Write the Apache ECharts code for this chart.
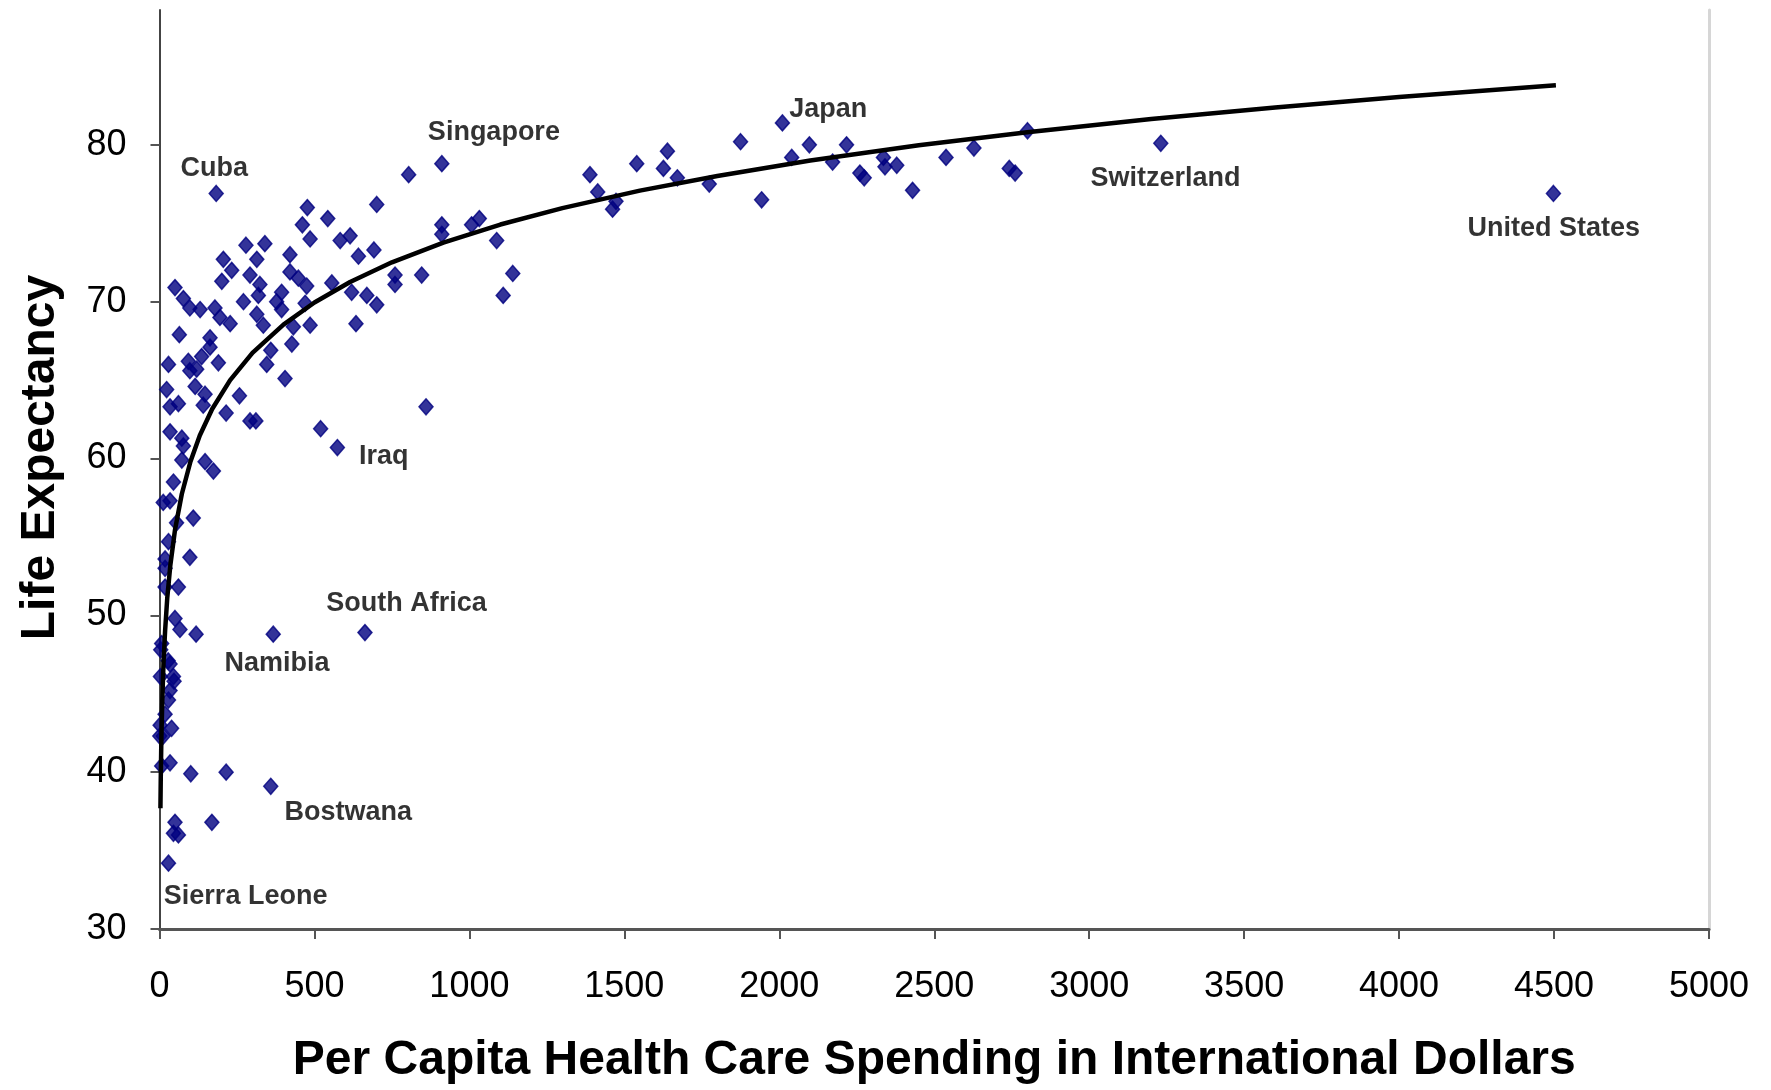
<!DOCTYPE html>
<html><head><meta charset="utf-8">
<script src="https://cdn.jsdelivr.net/npm/echarts@6/dist/echarts.min.js"></script>
<style>html,body{margin:0;padding:0;background:#fff}#chart{width:1771px;height:1090px}</style>
</head><body><div id="chart"></div>
<script>
// Per capita health care spending (international dollars)
const spending = [
  183, 804, 911, 701, 477, 461, 543, 615, 911, 911, 1007, 1032, 1088,
  1140, 1109, 1389, 1414, 1462, 1473, 1540, 1639, 1626, 1671, 1774, 1875, 1943, 2010, 2040, 2097,
  2172, 2217, 2260, 2274, 2336, 2341, 2379, 2430, 2538, 2628, 2742, 2761, 2801, 3231, 4498,
  279, 340, 486, 583, 692, 642, 421, 314, 206, 233, 201, 292, 324, 319, 421, 448, 475, 394, 378, 394,
  556, 620, 669, 701, 760, 760, 846, 470, 50, 77, 98, 131, 179, 195, 228, 271, 314, 335, 432, 486,
  634, 64, 163, 163, 29, 93, 98, 136, 190, 120, 359, 346, 427, 405, 23, 115, 147, 141, 34, 61,
  258, 215, 292, 311, 34, 72, 77, 72, 147, 174, 45, 520, 574, 860,
  34, 12, 55, 109, 29, 98, 18, 18, 61, 18, 50, 66, 118, 367, 663, 7, 34, 3, 45, 34, 29, 18, 2, 39,
  12, 34, 7, 101, 215, 359, 50, 45, 61, 169, 29,
  4, 28, 47, 1
];
// Life expectancy (years)
const lifeExp = [
  76.9, 78.1, 78.8, 76.2, 76.0, 74.9, 75.3, 74.2, 74.9, 74.3, 74.9, 75.3, 73.9,
  71.8, 70.4, 78.1, 77.0, 75.9, 76.4, 78.8, 79.6, 78.5, 77.9, 77.5, 80.2, 76.5, 81.4, 79.2, 80.0,
  78.9, 80.0, 78.2, 77.9, 79.2, 78.6, 78.7, 77.1, 79.2, 79.8, 78.5, 78.2, 80.9, 80.1, 76.9,
  73.6, 73.7, 74.0, 73.9, 73.3, 72.9, 73.0, 72.7, 72.7, 72.0, 71.3, 71.7, 71.1, 70.4, 71.9, 71.5, 71.0, 70.6, 70.0, 69.5,
  71.2, 70.6, 70.4, 69.8, 71.7, 71.1, 71.7, 69.9, 70.9, 70.2, 69.6, 69.5, 69.6, 69.0, 68.6, 70.0, 69.2, 68.5, 68.4, 68.5,
  68.6, 67.9, 67.7, 67.1, 66.0, 66.2, 65.6, 66.5, 66.1, 65.7, 66.9, 66.0, 67.3, 65.1, 64.4, 64.6, 64.1, 63.4, 63.3, 63.5,
  64.0, 62.9, 62.4, 62.4, 61.7, 61.3, 60.8, 59.9, 59.8, 59.2, 58.5, 61.9, 60.7, 63.3,
  57.3, 57.2, 55.9, 56.2, 54.7, 53.7, 53.6, 53.0, 51.8, 51.8, 49.8, 49.1, 48.8, 48.8, 48.9, 48.2, 46.9, 46.1, 46.1, 45.2, 44.6, 43.7, 43.0, 42.8,
  42.3, 40.6, 40.4, 39.9, 40.0, 39.1, 36.8, 36.1, 36.0, 36.8, 34.2,
  47.8, 47.1, 45.8, 42.3
];
// Trend line
const trendX = [3, 4, 6, 9, 13, 18, 25, 35, 50, 72, 100, 130, 170, 228, 300, 400, 500, 615, 750, 916, 1100, 1300, 1550, 1800, 2100, 2450, 2800, 3200, 3600, 4000, 4506];
const trendY = [37.7, 39.5, 42.1, 44.6, 47.0, 49.0, 51.1, 53.2, 55.45, 57.74, 59.81, 61.47, 63.16, 65.0, 66.74, 68.54, 69.95, 71.26, 72.51, 73.77, 74.92, 75.97, 77.08, 78.02, 79.0, 79.97, 80.8, 81.65, 82.39, 83.05, 83.8];
// Country annotations (left edge / vertical centre of the text, in data units)
const labelNames = ['Cuba', 'Singapore', 'Japan', 'Switzerland', 'United States', 'Iraq', 'South Africa', 'Namibia', 'Bostwana', 'Sierra Leone'];
const labelX = [68, 866, 2032, 3004, 4221, 644, 538, 210, 403, 14];
const labelY = [78.5, 80.8, 82.25, 77.85, 74.65, 60.15, 50.75, 46.9, 37.4, 32.1];
const xTickLabels = ['0', '500', '1000', '1500', '2000', '2500', '3000', '3500', '4000', '4500', '5000'];
const yTickLabels = ['30', '40', '50', '60', '70', '80'];

const FONT = '"Liberation Sans", Arial, Helvetica, sans-serif';
const chart = echarts.init(document.getElementById('chart'), null, {renderer: 'canvas'});
chart.setOption({
  backgroundColor: '#ffffff',
  animation: false,
  grid: {left: 159.5, right: 62, top: 10, bottom: 157, containLabel: false},
  xAxis: {
    type: 'value', min: 0, max: 5000, interval: 500,
    axisLine: {show: true, lineStyle: {color: '#555555', width: 3}},
    axisTick: {show: true, length: 10, lineStyle: {color: '#555555', width: 2}},
    axisLabel: {fontSize: 36, color: '#000000', margin: 40, fontFamily: FONT,
      formatter: v => (xTickLabels.indexOf(String(v)) >= 0 ? String(v) : '')},
    splitLine: {show: false},
    name: 'Per Capita Health Care Spending in International Dollars',
    nameLocation: 'middle', nameGap: 108,
    nameTextStyle: {fontSize: 48, fontWeight: 'bold', color: '#000000', fontFamily: FONT}
  },
  yAxis: [{
    type: 'value', min: 30, max: 88.6, interval: 10,
    axisLine: {show: true, lineStyle: {color: '#444444', width: 2}},
    axisTick: {show: true, length: 9, lineStyle: {color: '#555555', width: 2}},
    axisLabel: {fontSize: 36, color: '#000000', margin: 33, fontFamily: FONT,
      showMaxLabel: false,
      formatter: v => (yTickLabels.indexOf(String(v)) >= 0 ? String(v) : '')},
    splitLine: {show: false},
    name: 'Life Expectancy', nameLocation: 'middle', nameGap: 95,
    nameTextStyle: {fontSize: 48, fontWeight: 'bold', color: '#000000', fontFamily: FONT,
      padding: [0, 0, 0, 24]}
  }, {
    type: 'value', min: 30, max: 88.6, position: 'right',
    axisLine: {show: true, lineStyle: {color: '#d6d6d6', width: 3}},
    axisTick: {show: false}, axisLabel: {show: false}, splitLine: {show: false}
  }],
  series: [{
    type: 'scatter', name: 'Countries', z: 2,
    symbol: 'diamond', symbolSize: [14, 16],
    itemStyle: {color: '#000080', borderColor: '#000080', borderWidth: 1.5},
    data: spending.map((x, i) => [x, lifeExp[i]])
  }, {
    type: 'line', name: 'Trend', z: 3,
    showSymbol: false, smooth: false,
    lineStyle: {color: '#000000', width: 4.5},
    data: trendX.map((x, i) => [x, trendY[i]])
  }, {
    type: 'scatter', name: 'Labels', z: 4, silent: true,
    symbolSize: 0,
    label: {show: true, position: 'right', distance: 0, formatter: '{b}',
      fontSize: 27, fontWeight: 'bold', color: '#000000', fontFamily: FONT},
    data: labelNames.map((n, i) => ({name: n, value: [labelX[i], labelY[i]]}))
  }]
});
</script>
</body></html>
